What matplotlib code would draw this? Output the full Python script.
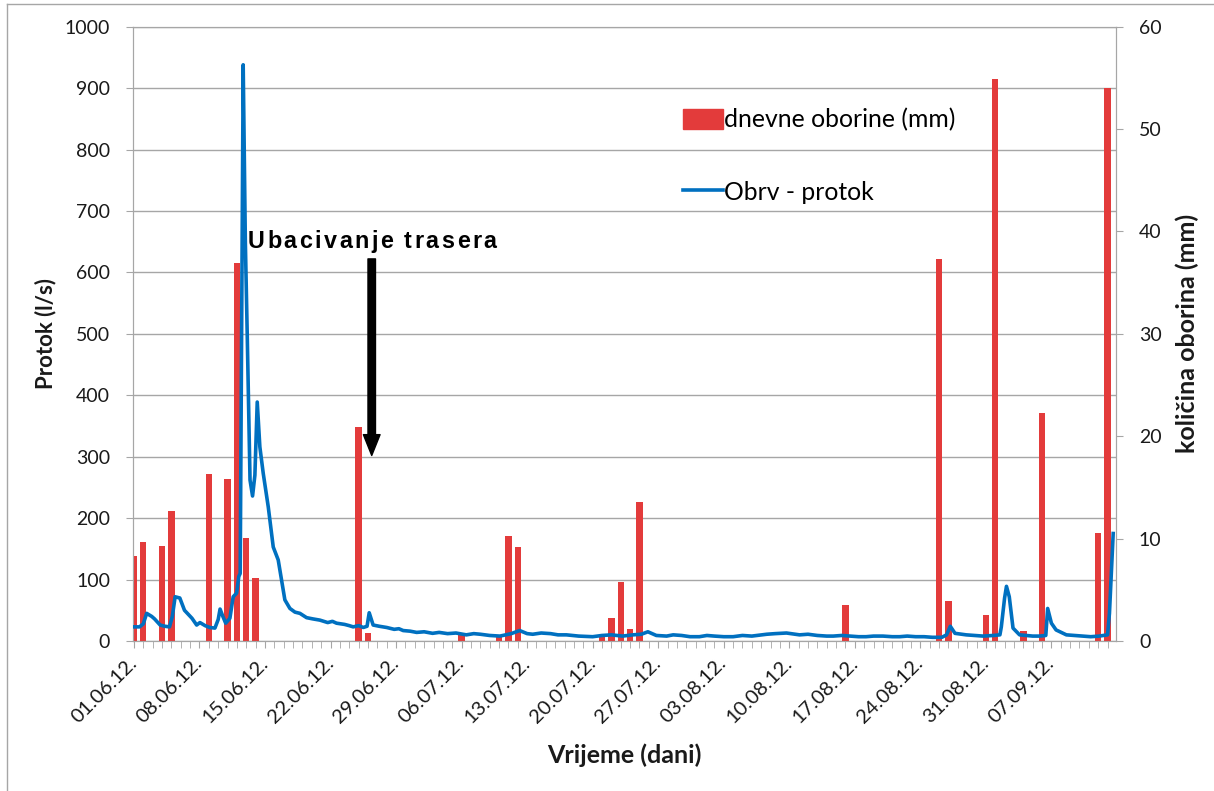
import matplotlib
matplotlib.use("Agg")
import matplotlib.pyplot as plt
import matplotlib.transforms as mtransforms
from matplotlib.font_manager import FontProperties, findfont, get_font
from matplotlib.lines import Line2D
from matplotlib.patches import Patch

# daily rainfall (day index from 01.06.2012, mm)
rain_day = [0, 1, 3, 4, 8, 10, 11, 12, 13, 24, 25, 35, 39, 40, 41, 50, 51, 52, 53, 54,
            76, 86, 87, 91, 92, 95, 97, 103, 104]
rain_mm = [8.3, 9.7, 9.3, 12.7, 16.3, 15.8, 36.9, 10.1, 6.2, 20.9, 0.8, 0.6, 0.5, 10.3, 9.2,
           0.6, 2.2, 5.8, 1.2, 13.6, 3.5, 37.3, 3.9, 2.5, 54.9, 1.0, 22.3, 10.5, 54.0]

# discharge readings (time in days from 01.06.2012, l/s)
flow_t = [0, 0.6, 1.0, 1.36, 1.9, 2.2, 2.8, 3.3, 3.8, 4.1, 4.4, 4.9, 5.4, 6.2, 6.7, 7.05,
          7.6, 8.1, 8.65, 9.0, 9.2, 9.5, 9.8, 10.25, 10.6, 10.97, 11.2, 11.35, 11.67, 11.9,
          12.1, 12.4, 12.67, 12.92, 13.17, 13.45, 13.81, 14.35, 14.88, 15.41, 15.77, 16.12,
          16.66, 17.2, 17.73, 18.44, 19.1, 19.86, 20.7, 21.2, 21.64, 22.5, 23.0, 23.42, 24.0,
          24.5, 24.9, 25.13, 25.55, 26.2, 27.0, 27.8, 28.3, 28.76, 29.5, 30.2, 31.0, 31.9,
          32.6, 33.5, 34.4, 35.5, 36.3, 37.0, 38.0, 39.1, 40.3, 41.2, 42.0, 42.6, 43.5, 44.5,
          45.3, 46.2, 47.5, 49.0, 50.0, 51.0, 52.2, 53.3, 54.2, 54.9, 55.8, 56.9, 57.6, 58.5,
          59.4, 60.4, 61.2, 62.0, 63.0, 64.0, 65.0, 66.0, 67.6, 68.5, 69.7, 71.1, 72.0, 73.0,
          74.0, 74.7, 75.6, 76.5, 77.4, 78.2, 79.0, 80.0, 81.0, 81.8, 82.6, 83.5, 84.4, 85.3,
          86.3, 86.8, 87.2, 87.7, 88.9, 89.8, 90.7, 91.8, 92.5, 92.65, 93.0, 93.2, 93.5, 93.9,
          94.6, 95.3, 96.0, 96.7, 97.4, 97.6, 98.0, 98.5, 99.6, 100.5, 101.4, 102.2, 103.1,
          104.0, 104.2, 104.6]
flow_ls = [23, 23, 28, 45, 40, 36, 26, 24, 23, 40, 72, 70, 50, 37, 26, 30,
           25, 22, 21, 35, 52, 40, 29, 37, 72, 78, 105, 110, 938, 650,
           500, 262, 236, 270, 389, 316, 273, 218, 153, 132, 99, 67,
           53, 47, 45, 38, 36, 34, 30, 32, 29, 27, 25, 23, 25,
           22, 24, 46, 26, 24, 22, 19, 20, 17, 16, 14, 15, 12.5,
           14, 12, 13, 10, 12, 11, 9, 8, 12, 17, 12, 11, 13, 12,
           10, 10, 8, 7, 9, 10, 8, 10, 11, 15, 9, 8, 10, 9,
           7, 7, 9, 8, 7, 7, 9, 8, 11, 12, 13, 10, 11, 9,
           8, 8, 9, 8, 7, 7, 8, 8, 7, 7, 8, 7, 7, 6,
           6, 10, 24, 12.5, 10, 9, 8, 9, 10, 23, 70, 89, 72, 21,
           10, 9, 8, 8, 9, 53, 29, 18, 10, 9, 8, 7, 8,
           10, 45, 175]

tick_days = [0, 7, 14, 21, 28, 35, 42, 49, 56, 63, 70, 77, 84, 91, 98]
tick_labels = ["01.06.12.", "08.06.12.", "15.06.12.", "22.06.12.", "29.06.12.",
               "06.07.12.", "13.07.12.", "20.07.12.", "27.07.12.", "03.08.12.",
               "10.08.12.", "17.08.12.", "24.08.12.", "31.08.12.", "07.09.12."]

RED = "#E33B3B"
BLUE = "#0070C0"
GRID = "#A6A6A6"
TXT = "#1a1a1a"
FONT = "Lato"

plt.rcParams["font.family"] = [FONT, "DejaVu Sans"]

fig = plt.figure(figsize=(12.14, 7.91), dpi=100)
ax = fig.add_axes([133 / 1214, 1 - 641 / 791, (1116 - 133) / 1214, (641 - 26.7) / 791])
ax2 = ax.twinx()
ax3 = ax.twinx()

# left axis: discharge, grid
ax.set_xlim(-0.1, 104.9)
ax.set_ylim(0, 1000)
ax.set_yticks(range(0, 1001, 100))
ax.yaxis.grid(True, color=GRID, lw=1)
ax.set_axisbelow(True)
ax.set_xticks(tick_days)
ax.set_xticklabels(tick_labels, rotation=45, ha="right", va="center", rotation_mode="anchor")
ax.set_xticks(range(0, 105), minor=True)
ax.tick_params(axis="x", which="both", length=5, color=GRID, direction="out")
ax.tick_params(axis="x", which="major", pad=9, labelsize=14.5, labelcolor=TXT)
ax.tick_params(axis="y", length=5, color=GRID, pad=11.5, labelsize=14, labelcolor=TXT)
for s in ax.spines.values():
    s.set_color(GRID)

ax.set_ylabel("Protok (l/s)", fontsize=16, fontweight="bold", color=TXT)
ax.yaxis.set_label_coords(-0.0885, 0.5)
ax.yaxis.label.set_va("center")
ax.set_xlabel("Vrijeme (dani)", fontsize=18, fontweight="bold", color=TXT)
ax.xaxis.set_label_coords(0.5, -0.1856)
ax.xaxis.label.set_va("center")

# right axis: rainfall bars
ax2.bar(rain_day, rain_mm, width=0.68, color=RED, zorder=2)
ax2.set_ylim(0, 60)
ax2.set_yticks(range(0, 61, 10))
ax2.tick_params(axis="y", length=5, color=GRID, pad=11.5, labelsize=14, labelcolor=TXT)
for s in ax2.spines.values():
    s.set_color(GRID)
ax2.set_ylabel("količina oborina (mm)", fontsize=18, fontweight="bold", color=TXT)
ax2.yaxis.set_label_coords(1.0722, 0.5)
ax2.yaxis.label.set_va("center")

# top layer: discharge line + annotation
ax3.plot(flow_t, flow_ls, color=BLUE, lw=2.6, solid_joinstyle="round")
ax3.set_ylim(0, 1000)
ax3.set_xlim(-0.1, 104.9)
ax3.axis("off")

ax3.annotate("", xy=(25.4, 302), xytext=(25.4, 622),
             arrowprops=dict(arrowstyle="simple,head_length=1.25,head_width=1.0,tail_width=0.45",
                             color="black", mutation_scale=12, shrinkA=0, shrinkB=0))

note = "Ubacivanje trasera"
note_fp = FontProperties(family="Liberation Sans", weight="bold", size=16.8)
ft = get_font(findfont(note_fp))
ft.set_size(16.8, 100)
off = 0.0
for ch in note:
    adv = ft.load_char(ord(ch)).linearHoriAdvance / 65536
    tr = mtransforms.offset_copy(ax3.transData, fig=fig, x=off, y=0, units="dots")
    ax3.text(12.17, 639, ch, transform=tr, fontproperties=note_fp, color="black",
             ha="left", va="baseline")
    off += adv + 2.4

handles = [Patch(facecolor=RED, edgecolor=RED), Line2D([], [], color=BLUE, lw=2.6)]
ax3.legend(handles, ["dnevne oborine (mm)", "Obrv - protok"], loc="upper left",
           bbox_to_anchor=(683 / 1214, 1 - 108 / 791), bbox_transform=fig.transFigure,
           frameon=False, borderpad=0, borderaxespad=0, handlelength=1.6,
           handleheight=0.9, handletextpad=0.05, labelspacing=2.0, fontsize=17.8)

# outer frame of the picture
fig.add_artist(Line2D([7 / 1214, 1], [1 - 4 / 791] * 2, transform=fig.transFigure, color=GRID, lw=1))
fig.add_artist(Line2D([7 / 1214] * 2, [0, 1 - 4 / 791], transform=fig.transFigure, color=GRID, lw=1))

fig.savefig("out.png", dpi=100)
